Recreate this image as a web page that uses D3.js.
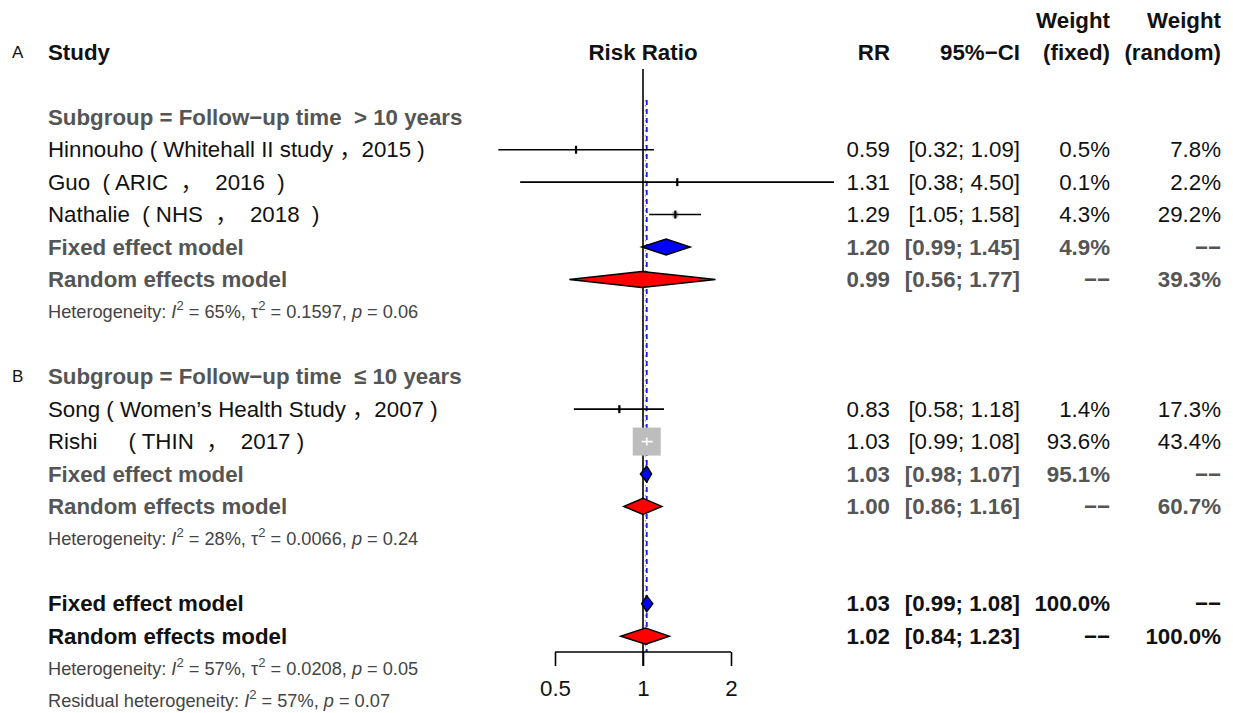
<!DOCTYPE html>
<html><head><meta charset="utf-8">
<script src="https://cdn.jsdelivr.net/npm/d3@7"></script>
<style>
body{margin:0;background:#fff}
svg text{font-family:"Liberation Sans",Arial,"Noto Sans CJK SC",sans-serif;white-space:pre}
</style>
</head><body>
<svg id="c" width="1233" height="713"></svg>
<script>
// ---------------- data ----------------
const studyNames = ["Hinnouho ( Whitehall II study ，2015 )", "Guo  ( ARIC  ，  2016  )", "Nathalie  ( NHS  ，  2018  )",
                    "Song ( Women’s Health Study ，2007 )", "Rishi     ( THIN  ，  2017 )"];
const studyGroup = [0, 0, 0, 1, 1];
const studyRR = [0.59, 1.31, 1.29, 0.83, 1.03];
const studyLo = [0.32, 0.38, 1.05, 0.58, 0.99];
const studyHi = [1.09, 4.50, 1.58, 1.18, 1.08];
const studyWFixed = [0.5, 0.1, 4.3, 1.4, 93.6];
const studyWRandom = [7.8, 2.2, 29.2, 17.3, 43.4];

const groupLetters = ["A", "B"];
const subgroupLabels = ["Subgroup = Follow−up time  > 10 years", "Subgroup = Follow−up time  ≤ 10 years"];
const subFixedRR = [1.20, 1.03], subFixedLo = [0.99, 0.98], subFixedHi = [1.45, 1.07], subFixedW = [4.9, 95.1];
const subRandomRR = [0.99, 1.00], subRandomLo = [0.56, 0.86], subRandomHi = [1.77, 1.16], subRandomW = [39.3, 60.7];
const subI2 = [65, 28], subTau2 = ["0.1597", "0.0066"], subP = ["0.06", "0.24"];

const overallFixed = [1.03, 0.99, 1.08];   // RR, lower, upper
const overallRandom = [1.02, 0.84, 1.23];
const overallI2 = 57, overallTau2 = "0.0208", overallP = "0.05";
const residualI2 = 57, residualP = "0.07";

const axisTicks = [0.5, 1, 2];
const modelNames = ["Fixed effect model", "Random effects model"];

// ---------------- layout ----------------
const svg = d3.select("#c");
const x = d3.scaleLog().domain([0.5, 2]).range([555, 731]);
const row = d3.scaleLinear().domain([0, 21]).range([20, 701]);
const colRR = 890, colCI = 1020, colWF = 1110, colWR = 1221, colLabel = 48;
const FS = 22.3, FSsmall = 18.2;
const GRAY = "#555555", BLACK = "#111111", HETC = "#444444";

const fmt2 = d3.format(".2f"), fmtW = d3.format(".1f");
const ciTxt = (lo, hi) => `[${fmt2(lo)}; ${fmt2(hi)}]`;

function txt(xp, yp, s, opt = {}) {
  return svg.append("text").attr("x", xp).attr("y", yp)
    .attr("dominant-baseline", "central")
    .attr("text-anchor", opt.anchor || "start")
    .attr("font-size", opt.size || FS)
    .attr("font-weight", opt.bold ? "bold" : "normal")
    .attr("fill", opt.color || BLACK)
    .text(s);
}
function hetText(yp, parts) {
  const t = svg.append("text").attr("x", colLabel).attr("y", yp).attr("dominant-baseline", "central")
    .attr("font-size", FSsmall).attr("fill", HETC);
  parts.forEach(p => {
    const ts = t.append("tspan").text(p.s);
    if (p.it) ts.attr("font-style", "italic");
    if (p.sup) ts.attr("font-size", FSsmall * 0.72).attr("dy", -7);
    if (p.down) ts.attr("dy", 7);
  });
}
function hetParts(label, i2, tau2, p) {
  const a = [{s: label + ": "}, {s: "I", it: true}, {s: "2", sup: true}, {s: ` = ${i2}%, `, down: true}];
  if (tau2 !== null) a.push({s: "τ"}, {s: "2", sup: true}, {s: ` = ${tau2}, `, down: true});
  a.push({s: "p", it: true}, {s: ` = ${p}`});
  return a;
}
function diamond(est, lo, hi, yc, fill) {
  const h = 8;
  svg.append("path")
    .attr("d", `M${x(lo)},${yc} L${x(est)},${yc - h} L${x(hi)},${yc} L${x(est)},${yc + h} Z`)
    .attr("fill", fill).attr("stroke", "#000").attr("stroke-width", 1.5);
}

// ---------------- reference lines ----------------
svg.append("line").attr("x1", x(1)).attr("x2", x(1)).attr("y1", 69).attr("y2", 666)
  .attr("stroke", "#000").attr("stroke-width", 1.6);
svg.append("line").attr("x1", x(overallRandom[0])).attr("x2", x(overallRandom[0])).attr("y1", 100).attr("y2", 652)
  .attr("stroke", "#f07a7a").attr("stroke-width", 1.4).attr("stroke-dasharray", "1.5,3.5");
svg.append("line").attr("x1", x(overallFixed[0])).attr("x2", x(overallFixed[0])).attr("y1", 100).attr("y2", 652)
  .attr("stroke", "#1a1aff").attr("stroke-width", 1.8).attr("stroke-dasharray", "5,4");

// ---------------- header ----------------
txt(12, row(1), "A", {size: 17});
txt(colLabel, row(1), "Study", {bold: true});
txt(x(1), row(1), "Risk Ratio", {bold: true, anchor: "middle"});
txt(colRR, row(1), "RR", {bold: true, anchor: "end"});
txt(colCI, row(1), "95%−CI", {bold: true, anchor: "end"});
txt(colWF, row(0), "Weight", {bold: true, anchor: "end"});
txt(colWF, row(1), "(fixed)", {bold: true, anchor: "end"});
txt(colWR, row(0), "Weight", {bold: true, anchor: "end"});
txt(colWR, row(1), "(random)", {bold: true, anchor: "end"});

// ---------------- groups ----------------
const groupStartRow = [3, 11];
const maxW = d3.max(studyWFixed);
const sq = d3.scaleSqrt().domain([0, maxW]).range([0, 28]);

groupLetters.forEach((g, gi) => {
  let r = groupStartRow[gi];
  if (gi === 1) txt(12, row(r), g, {size: 17});
  txt(colLabel, row(r), subgroupLabels[gi], {bold: true, color: GRAY});
  r++;
  studyNames.forEach((name, i) => {
    if (studyGroup[i] !== gi) return;
    const yc = row(r);
    txt(colLabel, yc, name);
    const s = sq(studyWFixed[i]);
    svg.append("rect").attr("x", x(studyRR[i]) - s / 2).attr("y", yc - s / 2)
      .attr("width", s).attr("height", s).attr("fill", "#bdbdbd");
    const inside = x(studyLo[i]) > x(studyRR[i]) - s / 2 && x(studyHi[i]) < x(studyRR[i]) + s / 2;
    const lc = inside ? "#ffffff" : "#000";
    svg.append("line").attr("x1", x(studyLo[i])).attr("x2", x(studyHi[i])).attr("y1", yc).attr("y2", yc)
      .attr("stroke", lc).attr("stroke-width", 1.6);
    svg.append("line").attr("x1", x(studyRR[i])).attr("x2", x(studyRR[i])).attr("y1", yc - 4).attr("y2", yc + 4)
      .attr("stroke", lc).attr("stroke-width", inside ? 1.6 : 2.2);
    txt(colRR, yc, fmt2(studyRR[i]), {anchor: "end"});
    txt(colCI, yc, ciTxt(studyLo[i], studyHi[i]), {anchor: "end"});
    txt(colWF, yc, fmtW(studyWFixed[i]) + "%", {anchor: "end"});
    txt(colWR, yc, fmtW(studyWRandom[i]) + "%", {anchor: "end"});
    r++;
  });
  // fixed
  let yc = row(r);
  txt(colLabel, yc, modelNames[0], {bold: true, color: GRAY});
  diamond(subFixedRR[gi], subFixedLo[gi], subFixedHi[gi], yc, "#0000ff");
  txt(colRR, yc, fmt2(subFixedRR[gi]), {anchor: "end", bold: true, color: GRAY});
  txt(colCI, yc, ciTxt(subFixedLo[gi], subFixedHi[gi]), {anchor: "end", bold: true, color: GRAY});
  txt(colWF, yc, fmtW(subFixedW[gi]) + "%", {anchor: "end", bold: true, color: GRAY});
  txt(colWR, yc, "−−", {anchor: "end", bold: true, color: GRAY});
  r++;
  yc = row(r);
  txt(colLabel, yc, modelNames[1], {bold: true, color: GRAY});
  diamond(subRandomRR[gi], subRandomLo[gi], subRandomHi[gi], yc, "#ff0000");
  txt(colRR, yc, fmt2(subRandomRR[gi]), {anchor: "end", bold: true, color: GRAY});
  txt(colCI, yc, ciTxt(subRandomLo[gi], subRandomHi[gi]), {anchor: "end", bold: true, color: GRAY});
  txt(colWF, yc, "−−", {anchor: "end", bold: true, color: GRAY});
  txt(colWR, yc, fmtW(subRandomW[gi]) + "%", {anchor: "end", bold: true, color: GRAY});
  r++;
  hetText(row(r), hetParts("Heterogeneity", subI2[gi], subTau2[gi], subP[gi]));
});

// ---------------- overall ----------------
let yf = row(18), yr = row(19);
txt(colLabel, yf, modelNames[0], {bold: true});
diamond(overallFixed[0], overallFixed[1], overallFixed[2], yf, "#0000ff");
txt(colRR, yf, fmt2(overallFixed[0]), {anchor: "end", bold: true});
txt(colCI, yf, ciTxt(overallFixed[1], overallFixed[2]), {anchor: "end", bold: true});
txt(colWF, yf, "100.0%", {anchor: "end", bold: true});
txt(colWR, yf, "−−", {anchor: "end", bold: true});
txt(colLabel, yr, modelNames[1], {bold: true});
diamond(overallRandom[0], overallRandom[1], overallRandom[2], yr, "#ff0000");
txt(colRR, yr, fmt2(overallRandom[0]), {anchor: "end", bold: true});
txt(colCI, yr, ciTxt(overallRandom[1], overallRandom[2]), {anchor: "end", bold: true});
txt(colWF, yr, "−−", {anchor: "end", bold: true});
txt(colWR, yr, "100.0%", {anchor: "end", bold: true});
hetText(row(20), hetParts("Heterogeneity", overallI2, overallTau2, overallP));
hetText(row(21), hetParts("Residual heterogeneity", residualI2, null, residualP));

// ---------------- axis ----------------
const axis = d3.axisBottom(x).tickValues(axisTicks).tickFormat(d => String(d)).tickSize(14).tickPadding(14);
const ag = svg.append("g").attr("transform", "translate(0,652)").call(axis);
ag.select(".domain").attr("stroke", "#000").attr("stroke-width", 1.6).attr("d", `M${x(0.5)},0V0H${x(2)}V0`);
ag.selectAll(".tick line").attr("stroke", "#000").attr("stroke-width", 1.6);
ag.selectAll(".tick text").attr("font-size", FS).attr("fill", BLACK)
  .attr("font-family", "'Liberation Sans',Arial,sans-serif");
</script>
</body></html>
